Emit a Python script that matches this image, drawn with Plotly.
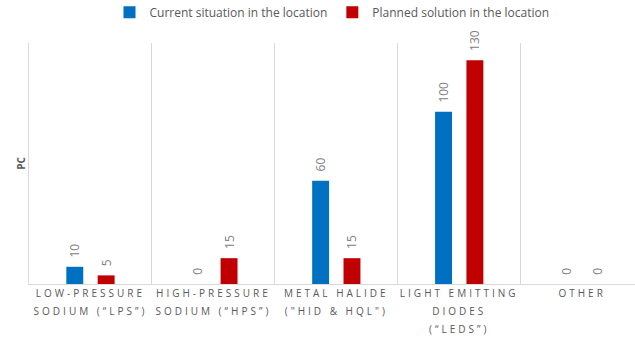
import plotly.graph_objects as go

categories = [
    "LOW-PRESSURE<br>SODIUM (“LPS”)",
    "HIGH-PRESSURE<br>SODIUM (“HPS”)",
    "METAL HALIDE<br>(\"HID & HQL\")",
    "LIGHT EMITTING<br>DIODES<br>(“LEDS”)",
    "OTHER",
]
current = [10, 0, 60, 100, 0]
planned = [5, 15, 15, 130, 0]
series_names = ["Current situation in the location", "Planned solution in the location"]
colors = ["#0070C0", "#C00000"]

fig = go.Figure()
for name, vals, col in zip(series_names, [current, planned], colors):
    fig.add_trace(go.Bar(
        x=categories, y=vals, name=name,
        marker=dict(color=col, line=dict(width=0)),
        text=[str(v) for v in vals],
        texttemplate="\u00a0\u00a0%{text}",
        textposition="outside", textangle=-90, constraintext="none",
        textfont=dict(family="Open Sans", size=12, color="#808080"),
        cliponaxis=False,
    ))

fig.update_layout(
    width=635, height=347,
    margin=dict(l=29, r=0, t=43, b=63, autoexpand=False),
    paper_bgcolor="white", plot_bgcolor="white",
    barmode="group", bargap=0.49, bargroupgap=0.46,
    font=dict(family="Open Sans", color="#595959"),
    legend=dict(orientation="h", x=0.5, xanchor="center", y=1.128, yanchor="middle",
                font=dict(size=12, color="#595959"),
                itemwidth=30, traceorder="normal"),
    showlegend=True,
)
fig.update_xaxes(
    type="category", range=[-0.5, 4.43], tickson="boundaries",
    showgrid=True, gridcolor="#d9d9d9", gridwidth=1,
    showline=True, linecolor="#d9d9d9", linewidth=1,
    ticks="", tickfont=dict(family="Open Sans", size=10, color="#595959"),
    automargin=False, fixedrange=True,
)
fig.update_yaxes(
    range=[0, 140], showgrid=False, zeroline=False,
    showline=True, linecolor="#d9d9d9", linewidth=1,
    showticklabels=False, ticks="", automargin=False,
    title=dict(text="<b>PC</b>", font=dict(size=10, color="#595959"), standoff=0),
)

post = """
document.body.style.margin = '0';
var gd = document.getElementById('{plot_id}');
gd.querySelectorAll('.xtick text').forEach(function(t){
  t.style.letterSpacing = '3px';
  t.querySelectorAll('tspan.line').forEach(function(s, i){
    if (i > 0) { s.setAttribute('dy', (i * 1.8) + 'em'); }
  });
});
"""
fig.write_html("out.html", post_script=post, config={"displayModeBar": False})
